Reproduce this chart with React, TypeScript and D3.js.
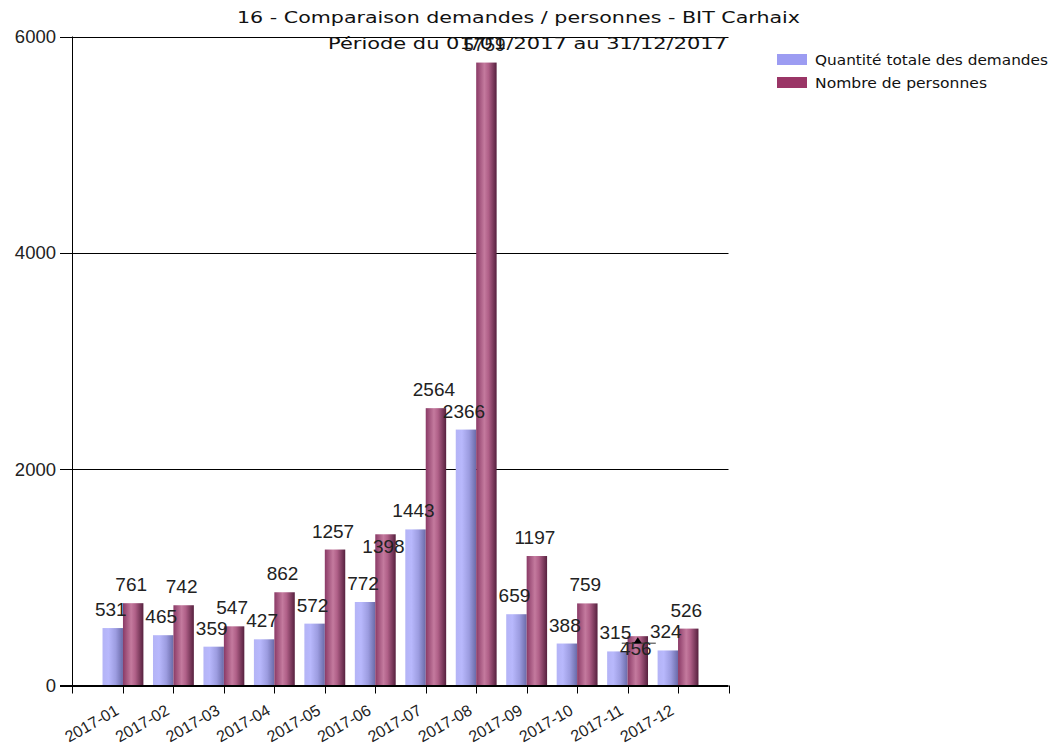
import React from "react";
import * as d3 from "d3";

const categories = ["2017-01","2017-02","2017-03","2017-04","2017-05","2017-06","2017-07","2017-08","2017-09","2017-10","2017-11","2017-12"];
const demandes = [531, 465, 359, 427, 572, 772, 1443, 2366, 659, 388, 315, 324];
const personnes = [761, 742, 547, 862, 1257, 1398, 2564, 5759, 1197, 759, 456, 526];
const yTicks = [0, 2000, 4000, 6000];
const seriesNames = ["Quantité totale des demandes", "Nombre de personnes"];
const titleLine1 = "16 - Comparaison demandes / personnes - BIT Carhaix";
const titleLine2 = "Période du 01/01/2017 au 31/12/2017";

const W = 1052, H = 744;
const left = 72.5, right = 728.5, top = 36.5, bottom = 685.5;

export default function App() {
  const x = d3.scaleLinear().domain([0, categories.length + 1]).range([left, right]);
  const y = d3.scaleLinear().domain([0, 6000]).range([bottom, top]);
  const step = x(1) - x(0);
  const bw = step * 0.405;

  type Lbl = { text: string; cx: number; base: number; w: number; inside: boolean; barTop: number; barH: number };
  const placed: Lbl[] = [];
  const fs = 19;
  const charW = fs * 0.456;
  const capH = 14;
  const pad = 3;
  const series = [demandes, personnes];
  series.forEach((vals, si) => {
    vals.forEach((v, i) => {
      const c = x(i + 1);
      const cx = si === 0 ? c - bw / 2 : c + bw / 2;
      const yt = y(v);
      const text = String(v);
      const w = text.length * charW;
      let base = yt - 12;
      const collides = (b: number) =>
        placed.some((p) =>
          Math.abs(p.cx - cx) < (p.w + w) / 2 + pad &&
          b - capH < p.base + pad && p.base - capH < b + pad
        );
      let inside = false;
      if (collides(base)) {
        base = yt + 19;
        inside = true;
      }
      placed.push({ text, cx, base, w, inside, barTop: yt, barH: y(0) - yt });
    });
  });

  const legendLens = [233, 172];

  return (
    <svg width={W} height={H} style={{ display: "block", position: "absolute", left: 0, top: 0, background: "#fff" }}>
      <defs>
        <linearGradient id="gBlue" x1="0" x2="1" y1="0" y2="0">
          <stop offset="0%" stopColor="#b4b4f6" />
          <stop offset="30%" stopColor="#b8b8fc" />
          <stop offset="65%" stopColor="#9c9ce0" />
          <stop offset="100%" stopColor="#6a6aa8" />
        </linearGradient>
        <linearGradient id="gMag" x1="0" x2="1" y1="0" y2="0">
          <stop offset="0%" stopColor="#8a3a66" />
          <stop offset="40%" stopColor="#c47a9e" />
          <stop offset="60%" stopColor="#b06088" />
          <stop offset="100%" stopColor="#56203e" />
        </linearGradient>
      </defs>

      {yTicks.map((t) => (
        <line key={"g" + t} x1={60} x2={right} y1={Math.round(y(t)) + 0.5} y2={Math.round(y(t)) + 0.5} stroke="#000" strokeWidth={1} />
      ))}

      {categories.map((cat, i) => {
        const c = x(i + 1);
        return (
          <g key={cat}>
            <rect x={c - bw} y={y(demandes[i])} width={bw} height={y(0) - y(demandes[i])} fill="url(#gBlue)" />
            <rect x={c} y={y(personnes[i])} width={bw} height={y(0) - y(personnes[i])} fill="url(#gMag)" />
          </g>
        );
      })}

      <line x1={left} x2={left} y1={top} y2={bottom + 8} stroke="#000" />
      <line x1={60} x2={right} y1={bottom} y2={bottom} stroke="#000" />
      {yTicks.map((t) => (
        <text key={"yt" + t} x={56} y={y(t)} dy="0.36em" textAnchor="end" fontFamily="Arial, 'Liberation Sans', sans-serif" fontSize={18.5} fill="#222">{t}</text>
      ))}
      {d3.range(1, categories.length + 2).map((k) => (
        <line key={"xt" + k} x1={Math.round(x(k)) + 0.5} x2={Math.round(x(k)) + 0.5} y1={bottom} y2={bottom + 8} stroke="#000" />
      ))}
      {categories.map((cat, i) => (
        <text key={"xl" + cat} transform={`translate(${x(i + 1) - 3},${bottom + 28}) rotate(-30)`} textAnchor="end" fontFamily="Arial, 'Liberation Sans', sans-serif" fontSize={16} fill="#222">{cat}</text>
      ))}

      {placed.map((p, k) => (
        <g key={"lb" + k}>
          <text x={p.cx - 2} y={p.base} textAnchor="middle" fontFamily="'Liberation Sans Narrow', 'Arial Narrow', Arial, sans-serif" fontSize={fs} fill="#222">{p.text}</text>
          {p.inside && p.barH < 60 && (
            <g>
              <line x1={p.cx - 16} x2={p.cx + 18} y1={p.barTop + 7} y2={p.barTop + 7} stroke="#333" strokeWidth={1} />
              <path d={`M${p.cx - 4},${p.barTop + 7} L${p.cx},${p.barTop + 1} L${p.cx + 4},${p.barTop + 7} Z`} fill="#000" />
            </g>
          )}
        </g>
      ))}

      <text x={237} y={23} textLength={563} lengthAdjust="spacingAndGlyphs" fontFamily="'DejaVu Sans', Verdana, sans-serif" fontSize={15} fill="#111">{titleLine1}</text>
      <text x={727} y={49} textAnchor="end" textLength={399} lengthAdjust="spacingAndGlyphs" fontFamily="'DejaVu Sans', Verdana, sans-serif" fontSize={15} fill="#111">{titleLine2}</text>

      {seriesNames.map((n, i) => (
        <g key={n} transform={`translate(777,${54 + i * 23})`}>
          <rect x={0} y={0} width={30} height={11} fill={i === 0 ? "#9c9cf2" : "#9a3566"} />
          <text x={38} y={11} textLength={legendLens[i]} lengthAdjust="spacingAndGlyphs" fontFamily="'DejaVu Sans', Tahoma, sans-serif" fontSize={14} fill="#111">{n}</text>
        </g>
      ))}
    </svg>
  );
}
